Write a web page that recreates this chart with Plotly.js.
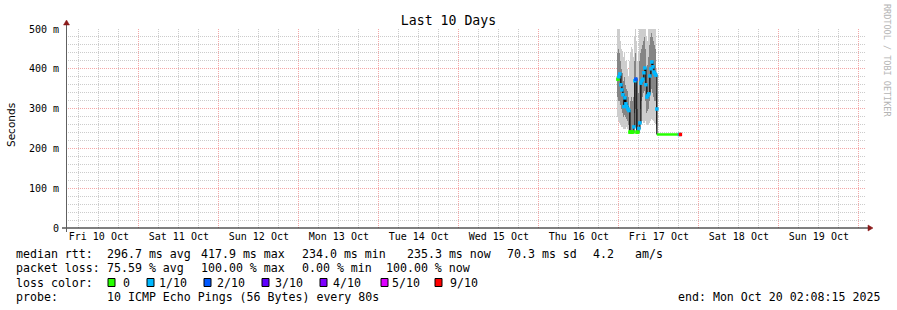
<!DOCTYPE html>
<html>
<head>
<meta charset="utf-8">
<script src="https://cdn.plot.ly/plotly-3.0.1.min.js"></script>
<style>
html,body{margin:0;padding:0;background:#fff;}
#chart{width:897px;height:310px;}
</style>
</head>
<body>
<div id="chart"></div>
<script>
// ---------------- data ----------------
const rangeStart = '2025-10-10 02:08:15';
const rangeEnd = '2025-10-20 02:08:15';

const times = [
  '2025-10-16 23:42','2025-10-17 00:00','2025-10-17 00:18','2025-10-17 00:36','2025-10-17 00:54',
  '2025-10-17 01:12','2025-10-17 01:30','2025-10-17 01:48','2025-10-17 02:06','2025-10-17 02:24',
  '2025-10-17 02:42','2025-10-17 03:00','2025-10-17 03:18','2025-10-17 03:36','2025-10-17 03:54',
  '2025-10-17 04:12','2025-10-17 04:30','2025-10-17 04:48','2025-10-17 05:06','2025-10-17 05:24',
  '2025-10-17 05:42','2025-10-17 06:00','2025-10-17 06:18','2025-10-17 06:36','2025-10-17 06:54',
  '2025-10-17 07:12','2025-10-17 07:30','2025-10-17 07:48','2025-10-17 08:06','2025-10-17 08:24',
  '2025-10-17 08:42','2025-10-17 09:00','2025-10-17 09:18','2025-10-17 09:36','2025-10-17 09:54',
  '2025-10-17 10:12','2025-10-17 10:30','2025-10-17 10:48','2025-10-17 11:06','2025-10-17 11:24'
];
// median rtt in ms
const median = [374,380,387,360,347,335,305,327,312,305,
                299,295,241,241,241,241,254,370,374,241,
                241,250,264,364,370,374,390,402,360,329,
                333,337,382,400,417,405,392,388,384,299];
// loss bucket index per step (0 -> "0", 1 -> "1/10", 2 -> "2/10", ...)
const loss = [0,1,1,1,1,1,1,1,1,1,
              1,1,0,0,0,0,1,1,2,0,
              0,1,1,1,1,1,1,1,1,1,
              1,1,1,1,1,1,1,1,1,1];
// smoke: spread of the individual pings in ms
const smokeMin = [280,270,265,260,255,255,250,250,250,255,
                  250,245,238,238,238,238,245,250,255,238,
                  238,245,255,265,270,270,265,265,270,262,
                  260,262,265,270,275,272,268,265,262,250];
const smokeLo  = [330,320,320,310,300,290,280,285,280,275,
                  270,260,240,240,240,240,250,290,300,240,
                  240,250,270,300,320,330,340,345,320,290,
                  295,300,320,340,350,340,330,320,320,260];
const smokeHi  = [440,450,440,420,400,390,370,380,360,350,
                  345,330,300,320,330,320,330,420,440,380,
                  300,340,420,440,450,460,470,480,450,400,
                  410,430,460,480,490,480,470,460,450,340];
const smokeMax = [500,500,500,470,450,445,430,440,420,420,
                  400,380,420,440,455,450,430,480,500,470,
                  420,440,500,500,500,500,500,500,500,480,
                  470,500,500,500,500,500,500,500,500,400];

// flat tail of the median after the smoke stops
const tailTimes = ['2025-10-17 11:24','2025-10-17 18:00'];
const tailValues = [235,235];
const endTimes = ['2025-10-17 18:09','2025-10-17 18:27'];
const endValues = [235,235];
const endLoss = [1,6];

const lossLabels = ['0','1/10','2/10','3/10','4/10','5/10','9/10'];
const lossColors = ['#26ff00','#00b8ff','#0059ff','#5e00ff','#7e00ff','#dd00ff','#ff0000'];

const yTickVals = [0,100,200,300,400,500];
const yTickText = ['0','100 m','200 m','300 m','400 m','500 m'];

const legendRows = [
  {label:'median rtt:', items:[['296.7 ms avg',107.3],['417.9 ms max',201.7],['234.0 ms min',302.7],['235.3 ms now',407.3],['70.3 ms sd',507.7],['4.2',593.3],['am/s',635]]},
  {label:'packet loss:', items:[['75.59 % avg',107.3],['100.00 % max',201.7],['0.00 % min',302.7],['100.00 % now',386.7]]}
];
const probeText = '10 ICMP Echo Pings (56 Bytes) every 80s';
const endText = 'end: Mon Oct 20 02:08:15 2025';

// ---------------- layout helpers (pixel placement) ----------------
const PX0 = 66, PX1 = 866, PY0 = 29, PY1 = 228;
const W = 897, H = 310;
const px = x => (x - PX0) / (PX1 - PX0);
const py = y => (PY1 - y) / (PY1 - PY0);
const MONO = 'DejaVu Sans Mono';
const STEP = 18 * 60 * 1000;
const TXT_SHIFT = -1.5;

const traces = [
  {type:'bar', x:times, base:smokeMin, y:smokeMax.map((v,i)=>v-smokeMin[i]), width:STEP,
   marker:{color:'#cdcdcd', line:{width:0}}, hoverinfo:'skip'},
  {type:'bar', x:times, base:smokeLo, y:smokeHi.map((v,i)=>v-smokeLo[i]), width:STEP,
   marker:{color:'#858585', line:{width:0}}, hoverinfo:'skip'},
  {type:'scatter', mode:'lines', x:times.concat(tailTimes.slice(0,1)), y:median.concat([tailValues[0]]),
   line:{color:'#000', width:1.2, shape:'hv'}, hoverinfo:'skip'},
  {type:'scatter', mode:'lines', x:tailTimes, y:tailValues,
   line:{color:lossColors[0], width:2.5, shape:'hv'}, hoverinfo:'skip'},
  {type:'scatter', mode:'markers', x:times, y:median,
   marker:{symbol:'square', size:3.5, color:loss.map(l=>lossColors[l]), line:{width:0}}, hoverinfo:'skip'},
  {type:'scatter', mode:'markers', x:endTimes, y:endValues,
   marker:{symbol:'square', size:3.5, color:endLoss.map(l=>lossColors[l]), line:{width:0}}, hoverinfo:'skip'}
];

const shapes = [];
const annotations = [];

// axis lines
shapes.push({type:'line', xref:'paper', yref:'paper', x0:px(62), x1:px(868), y0:py(228), y1:py(228),
             line:{color:'#000', width:1}});
shapes.push({type:'line', xref:'paper', yref:'paper', x0:px(66.5), x1:px(66.5), y0:py(232), y1:py(24),
             line:{color:'#606060', width:1}});
// arrows
shapes.push({type:'path', xref:'paper', yref:'paper',
  path:`M ${px(868)} ${py(225)} L ${px(873)} ${py(228)} L ${px(868)} ${py(231)} Z`,
  fillcolor:'#8b1a1a', line:{color:'#8b1a1a', width:0.5}});
shapes.push({type:'path', xref:'paper', yref:'paper',
  path:`M ${px(63.5)} ${py(25)} L ${px(66.5)} ${py(20)} L ${px(69.5)} ${py(25)} Z`,
  fillcolor:'#8b1a1a', line:{color:'#8b1a1a', width:0.5}});

// legend text rows
const rowY = [254, 268.3, 282.5, 296.5];
function addText(text, x, y, opts) {
  annotations.push(Object.assign({text:text, xref:'paper', yref:'paper', x:px(x + TXT_SHIFT), y:py(y),
    xanchor:'left', yanchor:'middle', showarrow:false, borderpad:0,
    font:{family:MONO, size:11.6, color:'#000'}}, opts || {}));
}
legendRows.forEach((row, r) => {
  addText(row.label, 16, rowY[r]);
  row.items.forEach(it => addText(it[0], it[1], rowY[r]));
});
addText('loss color:', 16, rowY[2]);
const boxX = [108, 147, 204, 262, 320, 381, 435];
const boxLabelX = [123, 159, 217, 275, 333, 392, 450];
lossLabels.forEach((lab, i) => {
  shapes.push({type:'rect', xref:'paper', yref:'paper', x0:px(boxX[i]), x1:px(boxX[i]+7),
    y0:py(286.5), y1:py(278.5), fillcolor:lossColors[i], line:{color:'#000', width:1}});
  addText(lab, boxLabelX[i], rowY[2]);
});
addText('probe:', 16, rowY[3]);
addText(probeText, 107.3, rowY[3]);
addText(endText, 678.3, rowY[3]);

// axis title and watermark
annotations.push({text:'Seconds', xref:'paper', yref:'paper', x:px(11), y:py(125), textangle:-90,
  xanchor:'center', yanchor:'middle', showarrow:false, font:{family:'DejaVu Sans', size:10.5, color:'#000'}});
annotations.push({text:'RRDTOOL / TOBI OETIKER', xref:'paper', yref:'paper', x:px(887), y:py(60), textangle:90,
  xanchor:'center', yanchor:'middle', showarrow:false, font:{family:MONO, size:8.5, color:'#b4b4b4'}});

const layout = {
  width:W, height:H,
  margin:{l:PX0, r:W-PX1, t:PY0, b:H-PY1, pad:0},
  paper_bgcolor:'#fff', plot_bgcolor:'#fff',
  showlegend:false, hovermode:false,
  barmode:'overlay', bargap:0,
  title:{text:'Last 10 Days', x:0.5, xref:'container', xanchor:'center', y:1-20/H, yref:'container', yanchor:'middle',
         font:{family:MONO, size:13.2, color:'#000'}},
  xaxis:{type:'date', range:[rangeStart, rangeEnd], fixedrange:true,
    tick0:'2025-10-10 00:00', dtick:86400000, ticklabelmode:'period', tickformat:'%a %d %b',
    ticks:'', showline:false, zeroline:false,
    showgrid:true, gridcolor:'#f4a8a8', griddash:'1px,1px', gridwidth:1,
    minor:{tick0:'2025-10-10 00:00', dtick:21600000, showgrid:true, gridcolor:'#cccccc', griddash:'1px,1px', gridwidth:1, ticks:''},
    tickfont:{family:MONO, size:10, color:'#000'}, ticklabelstandoff:1},
  yaxis:{range:[0,500], fixedrange:true, tickvals:yTickVals, ticktext:yTickText,
    ticks:'', showline:false, zeroline:false,
    showgrid:true, gridcolor:'#f4a8a8', griddash:'1px,1px', gridwidth:1,
    minor:{dtick:20, showgrid:true, gridcolor:'#cccccc', griddash:'1px,1px', gridwidth:1, ticks:''},
    tickfont:{family:MONO, size:10, color:'#000'}, ticklabelstandoff:6},
  shapes:shapes,
  annotations:annotations
};

Plotly.newPlot('chart', traces, layout, {staticPlot:true, displayModeBar:false});
</script>
</body>
</html>
